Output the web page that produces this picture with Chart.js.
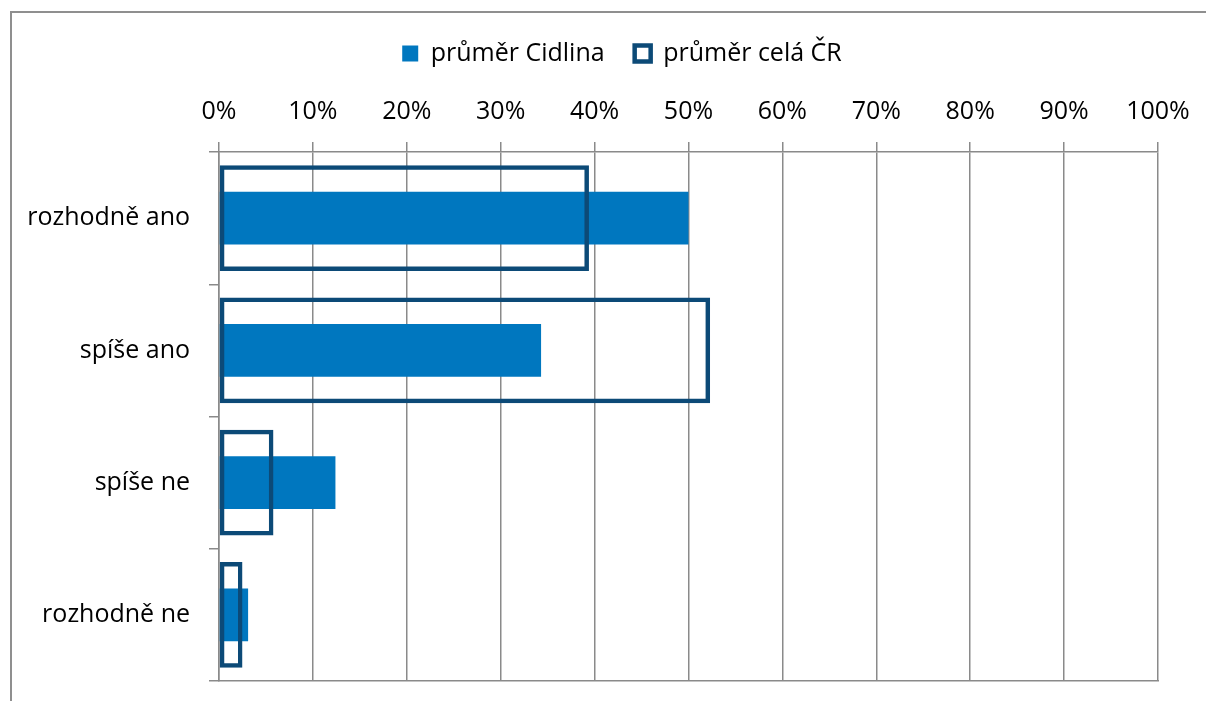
<!DOCTYPE html>
<html>
<head>
<meta charset="utf-8">
<script src="https://cdn.jsdelivr.net/npm/chart.js@4"></script>
<style>
    body { margin: 0; background: #fff; overflow: hidden; }
    #wrap { position: relative; width: 1206px; height: 701px; }
    #frame {
        position: absolute; left: 10px; top: 11px; width: 1300px; height: 800px;
        border-top: 2px solid #8f8f8f; border-left: 2px solid #8f8f8f;
    }
    #chart { position: absolute; left: 0; top: 0; }
</style>
</head>
<body>
<div id="wrap">
    <div id="frame"></div>
    <canvas id="chart" width="1206" height="701"></canvas>
</div>
<script>
// Data (percent)
const categories = ["rozhodně ano", "spíše ano", "spíše ne", "rozhodně ne"];
const cidlina = [50.0, 34.3, 12.4, 3.1];
const celaCR = [39.4, 52.3, 5.8, 2.5];
const tickStep = 10;
const seriesNames = ["průměr Cidlina", "průměr celá ČR"];

const gridGray = "#8a8a8a";
const font = { family: "'Open Sans', 'Noto Sans', sans-serif", size: 25 };

Chart.defaults.font.family = font.family;
Chart.defaults.color = "#000";

const ctx = document.getElementById("chart").getContext("2d");

new Chart(ctx, {
    type: "bar",
    data: {
        labels: categories,
        datasets: [
            {
                label: seriesNames[0],
                data: cidlina,
                backgroundColor: "#0077bf",
                borderWidth: 0,
                grouped: false,
                categoryPercentage: 1,
                barPercentage: 0.40,
                order: 1
            },
            {
                label: seriesNames[1],
                data: celaCR,
                backgroundColor: "rgba(255,255,255,0)",
                borderColor: "#0c4a77",
                borderWidth: 4.5,
                borderSkipped: false,
                grouped: false,
                categoryPercentage: 1,
                barPercentage: 0.80,
                order: 0
            }
        ]
    },
    options: {
        indexAxis: "y",
        responsive: false,
        animation: false,
        // negative right padding + empty right axis just shift the legend a bit to the right
        layout: { padding: { top: 11, right: -18, bottom: 20, left: 20 } },
        plugins: {
            tooltip: { enabled: false },
            legend: {
                position: "top",
                labels: {
                    font: font,
                    boxWidth: 16,
                    boxHeight: 16,
                    padding: 30,
                    color: "#000",
                    sort: (a, b) => a.datasetIndex - b.datasetIndex
                }
            }
        },
        scales: {
            x: {
                position: "top",
                min: 0,
                max: 100,
                ticks: {
                    stepSize: tickStep,
                    font: font,
                    padding: 15,
                    callback: v => v + "%"
                },
                grid: { color: gridGray, lineWidth: 1.5, tickLength: 10 },
                border: { color: gridGray, width: 1.5 },
                afterFit: scale => { scale.height = 76; }
            },
            x2: {
                position: "bottom",
                min: 0,
                max: 100,
                ticks: { display: false },
                grid: { drawOnChartArea: false, drawTicks: false },
                border: { color: gridGray, width: 1.5 },
                afterFit: scale => { scale.height = 0; }
            },
            y: {
                offset: true,
                ticks: { font: font, padding: 19 },
                grid: {
                    offset: true,
                    drawOnChartArea: false,
                    color: gridGray,
                    lineWidth: 1.5,
                    tickLength: 10
                },
                border: { color: gridGray, width: 1.5 },
                afterFit: scale => {
                    scale.width = 199;
                    scale.paddingTop = 0;
                    scale.paddingBottom = 0;
                }
            },
            yRight: {
                position: "right",
                ticks: { display: false },
                grid: { display: false },
                border: { display: false },
                afterFit: scale => { scale.width = 66; }
            }
        }
    }
});
</script>
</body>
</html>
